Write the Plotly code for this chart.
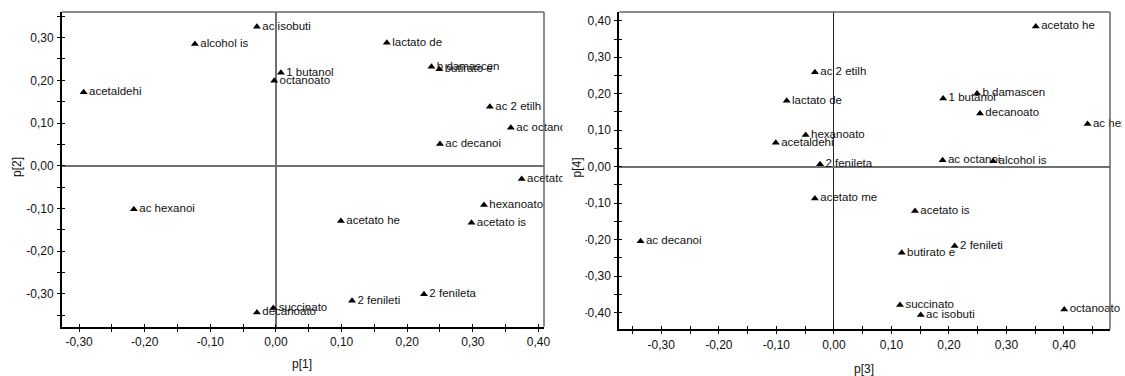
import plotly.graph_objects as go

# Loadings of the aroma compounds on the first four components
compounds = [
    "acetaldehi", "alcohol is", "ac isobuti", "1 butanol", "octanoato",
    "lactato de", "b damascen", "butirato e", "ac 2 etilh", "ac octanoi",
    "ac decanoi", "acetato me", "ac hexanoi", "succinato", "decanoato",
    "acetato he", "hexanoato", "acetato is", "2 fenileti", "2 fenileta",
]
p1 = [-0.293, -0.1235, -0.029, 0.0076, -0.0026,
      0.169, 0.237, 0.249, 0.326, 0.358,
      0.250, 0.3745, -0.2165, -0.004, -0.029,
      0.099, 0.317, 0.298, 0.116, 0.2256]
p2 = [0.172, 0.285, 0.3255, 0.218, 0.199,
      0.288, 0.232, 0.226, 0.138, 0.089,
      0.051, -0.031, -0.102, -0.333, -0.344,
      -0.1295, -0.092, -0.1335, -0.316, -0.301]
p3 = [-0.101, 0.277, 0.151, 0.190, 0.4005,
      -0.082, 0.249, 0.118, -0.033, 0.189,
      -0.336, -0.033, 0.441, 0.115, 0.254,
      0.351, -0.049, 0.141, 0.210, -0.024]
p4 = [0.066, 0.015, -0.406, 0.187, -0.391,
      0.181, 0.201, -0.236, 0.259, 0.018,
      -0.204, -0.087, 0.117, -0.379, 0.146,
      0.384, 0.087, -0.121, -0.217, 0.007]

# Tick positions (every 0.05) and the labels shown at each 0.10
x1_ticks = [-0.30, -0.25, -0.20, -0.15, -0.10, -0.05, 0.00, 0.05, 0.10, 0.15,
            0.20, 0.25, 0.30, 0.35, 0.40]
x1_labels = ["-0,30", "", "-0,20", "", "-0,10", "", "0,00", "", "0,10", "",
             "0,20", "", "0,30", "", "0,40"]
y1_ticks = [-0.35, -0.30, -0.25, -0.20, -0.15, -0.10, -0.05, 0.00, 0.05, 0.10,
            0.15, 0.20, 0.25, 0.30, 0.35]
y1_labels = ["", "-0,30", "", "-0,20", "", "-0,10", "", "0,00", "", "0,10",
             "", "0,20", "", "0,30", ""]
x2_ticks = [-0.35, -0.30, -0.25, -0.20, -0.15, -0.10, -0.05, 0.00, 0.05, 0.10,
            0.15, 0.20, 0.25, 0.30, 0.35, 0.40, 0.45]
x2_labels = ["", "-0,30", "", "-0,20", "", "-0,10", "", "0,00", "", "0,10",
             "", "0,20", "", "0,30", "", "0,40", ""]
y2_ticks = [-0.40, -0.35, -0.30, -0.25, -0.20, -0.15, -0.10, -0.05, 0.00, 0.05,
            0.10, 0.15, 0.20, 0.25, 0.30, 0.35, 0.40]
y2_labels = ["-0,40", "", "-0,30", "", "-0,20", "", "-0,10", "", "0,00", "",
             "0,10", "", "0,20", "", "0,30", "", "0,40"]

W, H = 1125, 376
FONT = "Liberation Sans, Arial, sans-serif"


def px_x(v):
    return v / W


def px_y(v):
    return 1 - v / H


x1_range = [-0.326, 0.4085]
y1_range = [-0.377, 0.36]
x2_range = [-0.373, 0.48]
y2_range = [-0.4455, 0.424]

x1_dom = [px_x(62), px_x(544)]
y1_dom = [px_y(326.7), px_y(12)]
x2_dom = [px_x(619.3), px_x(1110)]
y2_dom = [px_y(329.3), px_y(12)]

fig = go.Figure()


def scatter(x, y, xa, ya):
    return go.Scatter(
        x=x, y=y, xaxis=xa, yaxis=ya, mode="markers+text",
        text=compounds, textposition="middle right",
        textfont=dict(family=FONT, size=11.5, color="#111"),
        marker=dict(symbol="triangle-up", size=7, color="black"),
        cliponaxis=False, showlegend=False, hoverinfo="skip",
    )


fig.add_trace(scatter(p1, p2, "x", "y"))
fig.add_trace(scatter(p3, p4, "x2", "y2"))

# Empty traces that carry the inward half of the crossing ticks
for xa, ya in [("x3", "y"), ("x", "y3"), ("x4", "y2"), ("x2", "y4")]:
    fig.add_trace(go.Scatter(x=[], y=[], xaxis=xa, yaxis=ya,
                             showlegend=False, hoverinfo="skip"))

tickfont = dict(family=FONT, size=12, color="#111")


def main_axis(rng, dom, ticks, labels, anchor, zcolor, zwidth, standoff):
    return dict(
        range=rng, domain=dom, anchor=anchor, autorange=False,
        tickmode="array", tickvals=ticks, ticktext=labels,
        ticks="outside", ticklen=3, tickwidth=1, tickcolor="black",
        tickfont=tickfont, ticklabelstandoff=standoff,
        showline=True, linecolor="black", linewidth=2, mirror=False,
        showgrid=False, zeroline=True, zerolinecolor=zcolor,
        zerolinewidth=zwidth, automargin=False, fixedrange=True,
    )


def inner_axis(rng, ticks, over, anchor):
    return dict(
        range=rng, overlaying=over, anchor=anchor, autorange=False,
        tickmode="array", tickvals=ticks, ticks="inside", ticklen=3,
        tickwidth=1, tickcolor="black", showticklabels=False,
        showline=False, showgrid=False, zeroline=False,
        automargin=False, fixedrange=True,
    )


fig.update_layout(
    width=W, height=H,
    margin=dict(l=0, r=0, t=0, b=0),
    paper_bgcolor="white", plot_bgcolor="white",
    xaxis=main_axis(x1_range, x1_dom, x1_ticks, x1_labels, "y", "#707070", 1.5, 0),
    yaxis=main_axis(y1_range, y1_dom, y1_ticks, y1_labels, "x", "#707070", 1.5, 1),
    xaxis2=main_axis(x2_range, x2_dom, x2_ticks, x2_labels, "y2", "#222", 1.2, 0),
    yaxis2=main_axis(y2_range, y2_dom, y2_ticks, y2_labels, "x2", "#707070", 1.5, 1),
    xaxis3=inner_axis(x1_range, x1_ticks, "x", "y"),
    yaxis3=inner_axis(y1_range, y1_ticks, "y", "x"),
    xaxis4=inner_axis(x2_range, x2_ticks, "x2", "y2"),
    yaxis4=inner_axis(y2_range, y2_ticks, "y2", "x2"),
)

# Grey top and right frame of each panel
for xr, yr in [("x", "y"), ("x2", "y2")]:
    fig.add_shape(type="line", xref=f"{xr} domain", yref=f"{yr} domain",
                  x0=0, x1=1, y0=1, y1=1, line=dict(color="#666", width=1.5))
    fig.add_shape(type="line", xref=f"{xr} domain", yref=f"{yr} domain",
                  x0=1, x1=1, y0=0, y1=1, line=dict(color="#666", width=1.5))

# Each panel's labels are cut off at the edge of its own image area
fig.add_shape(type="rect", xref="paper", yref="paper",
              x0=px_x(562.5), x1=px_x(585.5), y0=0, y1=1,
              fillcolor="white", line=dict(width=0), layer="above")
fig.add_shape(type="rect", xref="paper", yref="paper",
              x0=px_x(1122), x1=1, y0=0, y1=1,
              fillcolor="white", line=dict(width=0), layer="above")

# Axis titles
titles = [
    ("p[1]", px_x(302), px_y(364), 0),
    ("p[3]", px_x(864), px_y(368.5), 0),
    ("p[2]", px_x(17), px_y(167), -90),
    ("p[4]", px_x(576.5), px_y(168), -90),
]
for txt, ax, ay, ang in titles:
    fig.add_annotation(text=txt, x=ax, y=ay, xref="paper", yref="paper",
                       showarrow=False, textangle=ang,
                       font=dict(family=FONT, size=12, color="#111"),
                       xanchor="center", yanchor="middle")

fig.write_html("out.html")
